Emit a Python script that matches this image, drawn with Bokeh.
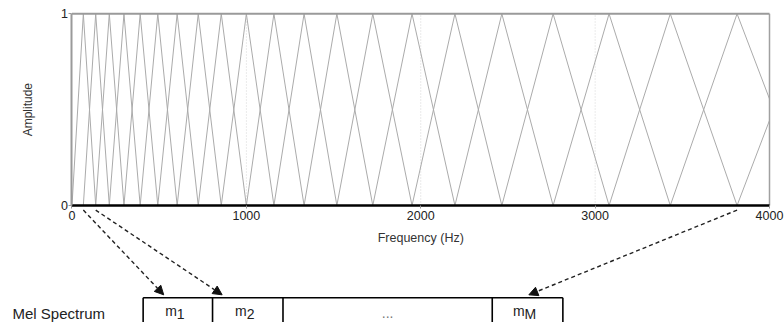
from bokeh.plotting import figure
from bokeh.models import Range1d, LinearAxis, FixedTicker, Arrow, NormalHead
from bokeh.core.properties import value
from bokeh.embed import file_html
from bokeh.resources import INLINE
import math

# ---- data ----
filter_centers_hz = [0, 65, 136, 214, 298, 391, 492, 603, 724, 856, 1000, 1158,
                     1331, 1519, 1725, 1950, 2196, 2465, 2759, 3080, 3431, 3814, 4233, 4662]
amp_ticks = [0, 1]
freq_ticks = [0, 1000, 2000, 3000, 4000]
grid_freqs = [1000, 2000, 3000]
cell_main = ["m", "m", "", "m"]
cell_subs = ["1", "2", "", "M"]
cell_mid = ["", "", "...", ""]
arrow_from_filter = [1, 2, 21]

# ---- layout constants (data space of the figure) ----
FONT = "Liberation Sans"
X_END = 4086
cell_edges = [408, 806, 1210, 2410, 2815]
box_top = -0.481
box_bottom = -0.70
arrow_start_y = -0.024
arrow_end_x = [526, 861, 2620]
arrow_end_y = -0.466
m_offsets = [-1, -1, 0, -3]

p = figure(width=784, height=322, output_backend="svg", toolbar_location=None,
           x_range=Range1d(-410, X_END), y_range=Range1d(-0.6103, 1.0694),
           x_axis_type=None, y_axis_type=None,
           min_border_left=0, min_border_right=0, min_border_top=0, min_border_bottom=0)
p.outline_line_color = None
p.background_fill_color = "white"
p.border_fill_color = "white"

# faint vertical grid lines
p.segment(x0=grid_freqs, y0=[0]*len(grid_freqs), x1=grid_freqs, y1=[1]*len(grid_freqs),
          line_color="#d6d6d6", line_width=1, line_dash="1 2")

# triangular mel filters
xs, ys = [], []
for k in range(1, len(filter_centers_hz) - 1):
    xs.append([filter_centers_hz[k-1], filter_centers_hz[k], filter_centers_hz[k+1]])
    ys.append([0, 1, 0])
p.multi_line(xs=xs, ys=ys, line_color="#ababab", line_width=1)

# mask everything to the right of the last frequency (plot area ends there)
p.quad(left=[freq_ticks[-1]], right=[X_END + 50], bottom=[-0.02], top=[1.05],
       fill_color="white", line_color=None)

# frame borders
p.line(x=[freq_ticks[0], freq_ticks[-1]], y=[amp_ticks[-1]]*2, line_color="#9a9a9a", line_width=2)
p.line(x=[freq_ticks[-1]]*2, y=[amp_ticks[0], amp_ticks[-1]], line_color="#a0a0a0", line_width=1.5)

# axes
xaxis = LinearAxis(fixed_location=0, bounds=(freq_ticks[0], freq_ticks[-1]),
                   ticker=FixedTicker(ticks=freq_ticks))
xaxis.axis_line_color = "black"
xaxis.axis_line_width = 2.5
xaxis.major_tick_out = 3
xaxis.major_tick_in = 0
xaxis.major_tick_line_color = "#999999"
xaxis.minor_tick_line_color = None
xaxis.major_label_standoff = 2
xaxis.major_label_text_font = FONT
xaxis.major_label_text_font_size = "12.5px"
xaxis.major_label_text_color = "#222222"
p.add_layout(xaxis, "below")

yaxis = LinearAxis(fixed_location=0, bounds=(amp_ticks[0], amp_ticks[-1]),
                   ticker=FixedTicker(ticks=amp_ticks))
yaxis.axis_line_color = "#9a9a9a"
yaxis.axis_line_width = 2
yaxis.major_tick_out = 3
yaxis.major_tick_in = 0
yaxis.major_tick_line_color = "#999999"
yaxis.minor_tick_line_color = None
yaxis.major_label_standoff = 1
yaxis.major_label_text_font = FONT
yaxis.major_label_text_font_size = "12.5px"
yaxis.major_label_text_color = "#222222"
p.add_layout(yaxis, "left")

# axis titles
p.text(x=[-250], y=[0.5], text=["Amplitude"], angle=math.pi/2,
       text_font=value(FONT), text_font_size="12px", text_color="#333333",
       text_align="center", text_baseline="alphabetic")
p.text(x=[(freq_ticks[0] + freq_ticks[-1]) / 2], y=[-0.167], text=["Frequency (Hz)"],
       text_font=value(FONT), text_font_size="12.5px", text_color="#333333",
       text_align="center", text_baseline="alphabetic")

# Mel spectrum diagram
p.text(x=[-341], y=[-0.562], text=["Mel Spectrum"], text_font=value(FONT),
       text_font_size="15px", text_color="#222222", text_align="left",
       text_baseline="alphabetic")
p.segment(x0=[cell_edges[0]], y0=[box_top], x1=[cell_edges[-1]], y1=[box_top],
          line_color="black", line_width=1.6)
p.segment(x0=cell_edges, y0=[box_top]*len(cell_edges), x1=cell_edges,
          y1=[box_bottom]*len(cell_edges), line_color="black", line_width=1.6)

centers = [(cell_edges[i] + cell_edges[i+1]) / 2 for i in range(len(cell_edges) - 1)]
for i, c in enumerate(centers):
    if cell_main[i]:
        p.text(x=[c], y=[-0.5505], text=[cell_main[i]], text_font=value(FONT),
               text_font_size="14px", text_color="#222222", text_align="right",
               text_baseline="alphabetic", x_offset=m_offsets[i])
        p.text(x=[c], y=[-0.5505], text=[cell_subs[i]], text_font=value(FONT),
               text_font_size="14px", text_color="#222222", text_align="left",
               text_baseline="alphabetic", x_offset=m_offsets[i], y_offset=3)
    if cell_mid[i]:
        p.text(x=[c], y=[-0.5625], text=[cell_mid[i]], text_font=value(FONT),
               text_font_size="14px", text_color="#777777", text_align="center",
               text_baseline="alphabetic")

for fi, ex in zip(arrow_from_filter, arrow_end_x):
    p.add_layout(Arrow(end=NormalHead(size=9, fill_color="#111111", line_color="#111111"),
                       x_start=filter_centers_hz[fi], y_start=arrow_start_y,
                       x_end=ex, y_end=arrow_end_y,
                       line_color="#222222", line_width=1.4, line_dash="4 3"))

open("out.html", "w").write(file_html(p, INLINE))
